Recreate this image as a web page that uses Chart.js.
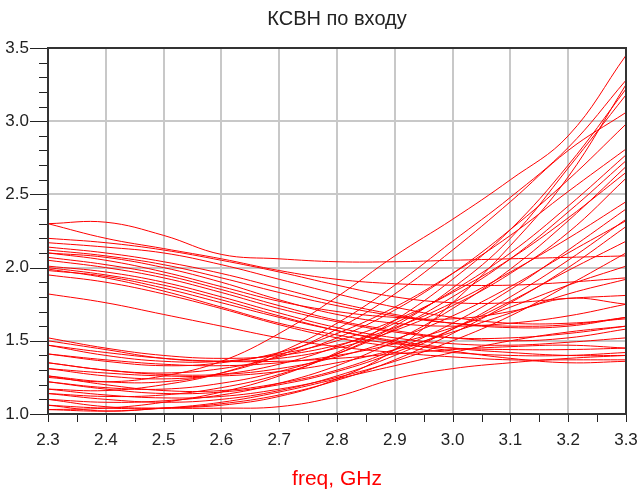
<!DOCTYPE html>
<html>
<head>
<meta charset="utf-8">
<script src="https://cdn.jsdelivr.net/npm/chart.js@4"></script>
<style>
  body { margin: 0; background: #fff; }
  #wrap { width: 638px; height: 494px; }
</style>
</head>
<body>
<div id="wrap"><canvas id="vswr"></canvas></div>
<script>
const freqs = [2.3, 2.4, 2.5, 2.6, 2.7, 2.8, 2.9, 3.0, 3.1, 3.2, 3.3]
const xTicks = [2.3, 2.4, 2.5, 2.6, 2.7, 2.8, 2.9, 3.0, 3.1, 3.2, 3.3]
const yTicks = [1.0, 1.5, 2.0, 2.5, 3.0, 3.5]

// curves that start high and fall
const fallA1 = [2.30, 2.31, 2.22, 2.09, 2.06, 2.04, 2.04, 2.05, 2.06, 2.07, 2.08]
const fallA2 = [2.30, 2.20, 2.13, 2.06, 1.98, 1.92, 1.89, 1.88, 1.88, 1.90, 1.93]
const fallA3 = [2.20, 2.17, 2.12, 2.05, 1.97, 1.88, 1.80, 1.76, 1.76, 1.79, 1.81]
const fallA4 = [2.17, 2.14, 2.10, 2.02, 1.92, 1.82, 1.73, 1.66, 1.62, 1.62, 1.65]
const fallA5 = [2.14, 2.10, 2.04, 1.96, 1.86, 1.76, 1.68, 1.62, 1.59, 1.60, 1.66]
const fallA6 = [2.10, 2.07, 2.00, 1.90, 1.78, 1.68, 1.62, 1.60, 1.62, 1.67, 1.75]
const fallA7 = [2.07, 2.02, 1.95, 1.85, 1.74, 1.64, 1.57, 1.52, 1.50, 1.52, 1.58]
const fallA8 = [2.01, 1.97, 1.90, 1.80, 1.69, 1.59, 1.52, 1.48, 1.47, 1.49, 1.52]
const fallA9 = [1.98, 1.94, 1.86, 1.76, 1.66, 1.57, 1.50, 1.45, 1.42, 1.40, 1.40]
const fallA10 = [1.95, 1.90, 1.82, 1.72, 1.61, 1.52, 1.46, 1.42, 1.40, 1.40, 1.42]
const fallA11 = [1.82, 1.76, 1.68, 1.60, 1.52, 1.46, 1.42, 1.39, 1.37, 1.37, 1.37]
const fallA12 = [2.12, 2.08, 2.02, 1.93, 1.83, 1.74, 1.67, 1.62, 1.60, 1.61, 1.66]
const fallA13 = [2.05, 2.00, 1.93, 1.83, 1.72, 1.63, 1.56, 1.52, 1.52, 1.55, 1.60]
const fallA14 = [2.00, 1.95, 1.88, 1.78, 1.67, 1.57, 1.49, 1.43, 1.38, 1.35, 1.36]
const fallA15 = [2.10, 2.05, 1.97, 1.87, 1.77, 1.70, 1.66, 1.65, 1.70, 1.79, 1.75]
const fallA16 = [1.99, 1.93, 1.84, 1.73, 1.62, 1.54, 1.48, 1.45, 1.44, 1.44, 1.45]

// curves that start low and rise
const riseB1 = [1.25, 1.22, 1.26, 1.36, 1.55, 1.80, 2.08, 2.33, 2.60, 2.90, 3.45]
const riseB2 = [1.17, 1.16, 1.20, 1.28, 1.42, 1.62, 1.88, 2.18, 2.48, 2.82, 3.28]
const riseB3 = [1.26, 1.22, 1.22, 1.28, 1.40, 1.58, 1.82, 2.12, 2.45, 2.80, 3.06]
const riseB4 = [1.06, 1.02, 1.04, 1.06, 1.12, 1.24, 1.44, 1.76, 2.15, 2.62, 3.25]
const riseB5 = [1.03, 1.04, 1.08, 1.15, 1.26, 1.42, 1.64, 1.92, 2.26, 2.70, 3.22]
const riseB6 = [1.14, 1.12, 1.13, 1.18, 1.27, 1.41, 1.60, 1.86, 2.20, 2.68, 3.18]
const riseB7 = [1.35, 1.30, 1.28, 1.31, 1.39, 1.52, 1.71, 1.96, 2.26, 2.60, 2.98]
const riseB8 = [1.41, 1.36, 1.33, 1.35, 1.42, 1.55, 1.73, 1.96, 2.22, 2.52, 2.81]
const riseB9 = [1.31, 1.26, 1.24, 1.27, 1.34, 1.46, 1.62, 1.84, 2.10, 2.42, 2.77]
const riseB10 = [1.22, 1.18, 1.17, 1.21, 1.29, 1.41, 1.58, 1.80, 2.06, 2.38, 2.73]
const riseB11 = [1.10, 1.08, 1.09, 1.13, 1.21, 1.33, 1.50, 1.72, 1.99, 2.32, 2.69]
const riseB12 = [1.47, 1.40, 1.36, 1.36, 1.41, 1.50, 1.64, 1.83, 2.06, 2.34, 2.65]
const riseB13 = [1.50, 1.44, 1.38, 1.36, 1.38, 1.45, 1.57, 1.74, 1.96, 2.24, 2.61]
const riseB14 = [1.52, 1.45, 1.40, 1.38, 1.40, 1.47, 1.59, 1.76, 1.97, 2.20, 2.45]
const riseB15 = [1.26, 1.20, 1.16, 1.16, 1.21, 1.30, 1.44, 1.62, 1.85, 2.12, 2.40]
const riseB16 = [1.14, 1.10, 1.08, 1.10, 1.16, 1.26, 1.40, 1.58, 1.80, 2.05, 2.33]
const riseB17 = [1.06, 1.04, 1.04, 1.07, 1.13, 1.23, 1.37, 1.55, 1.76, 2.00, 2.28]
const riseB18 = [1.35, 1.30, 1.27, 1.27, 1.31, 1.39, 1.51, 1.67, 1.87, 2.10, 2.32]
const riseB19 = [1.22, 1.17, 1.14, 1.15, 1.20, 1.29, 1.42, 1.58, 1.77, 1.98, 2.18]
const riseB20 = [1.17, 1.13, 1.11, 1.12, 1.17, 1.25, 1.36, 1.50, 1.67, 1.88, 2.10]
const riseB21 = [1.41, 1.37, 1.34, 1.33, 1.35, 1.40, 1.48, 1.59, 1.73, 1.88, 2.01]
const riseB22 = [1.31, 1.28, 1.26, 1.26, 1.29, 1.35, 1.44, 1.56, 1.69, 1.82, 1.92]
const riseB23 = [1.03, 1.02, 1.04, 1.08, 1.15, 1.24, 1.33, 1.42, 1.50, 1.56, 1.60]
const riseB24 = [1.10, 1.05, 1.04, 1.04, 1.05, 1.12, 1.24, 1.31, 1.35, 1.38, 1.40]
const riseB25 = [1.47, 1.42, 1.38, 1.36, 1.36, 1.38, 1.41, 1.44, 1.46, 1.47, 1.45]

const curves = [
    fallA1, fallA2, fallA3, fallA4, fallA5, fallA6, fallA7, fallA8,
    fallA9, fallA10, fallA11, fallA12, fallA13, fallA14, fallA15, fallA16,
    riseB1, riseB2, riseB3, riseB4, riseB5, riseB6, riseB7, riseB8, riseB9,
    riseB10, riseB11, riseB12, riseB13, riseB14, riseB15, riseB16, riseB17,
    riseB18, riseB19, riseB20, riseB21, riseB22, riseB23, riseB24, riseB25
]

// box, tick marks (majors longer on y), like the original plot frame
const frame = {
    id: 'frame',
    afterDraw(chart) {
        const { ctx, chartArea: a, scales: { x, y } } = chart
        ctx.save()
        ctx.strokeStyle = '#222'
        ctx.lineWidth = 1
        ctx.beginPath()
        for (let v = 10; v <= 35; v++) {
            const py = Math.round(y.getPixelForValue(v / 10)) + 0.5
            const len = v % 5 === 0 ? 18 : 9
            ctx.moveTo(a.left - len, py)
            ctx.lineTo(a.left, py)
        }
        for (let v = 46; v <= 66; v++) {
            const px = Math.round(x.getPixelForValue(v / 20)) + 0.5
            ctx.moveTo(px, a.bottom)
            ctx.lineTo(px, a.bottom + 8)
        }
        ctx.stroke()
        ctx.lineWidth = 2
        ctx.strokeStyle = '#333'
        ctx.strokeRect(a.left, a.top, a.right - a.left, a.bottom - a.top)
        ctx.restore()
    }
}

const ctx = document.getElementById('vswr')
const chart = new Chart(ctx, {
    type: 'line',
    data: {
        datasets: curves.map((c, i) => ({
            label: 'S' + (i + 1),
            data: freqs.map((f, k) => ({ x: f, y: c[k] })),
            borderColor: 'rgb(255, 0, 0)',
            borderWidth: 1,
            pointRadius: 0,
            tension: 0.4,
            fill: false
        }))
    },
    options: {
        responsive: true,
        maintainAspectRatio: false,
        animation: false,
        layout: { padding: { left: 0, right: 12, top: 0, bottom: 0 } },
        plugins: {
            legend: { display: false },
            tooltip: { enabled: false },
            title: {
                display: true,
                fullSize: false,
                text: 'КСВН по входу',
                color: '#222',
                font: { family: 'Liberation Sans, Arial', size: 20, weight: 'normal' },
                padding: { top: 7, bottom: 17 }
            }
        },
        scales: {
            x: {
                type: 'linear',
                min: 2.3,
                max: 3.3,
                afterBuildTicks: s => { s.ticks = xTicks.map(v => ({ value: v })) },
                afterFit: s => { s.height = 80; s.paddingLeft = 0; s.paddingRight = 0 },
                ticks: {
                    color: '#222',
                    padding: 16,
                    maxRotation: 0,
                    font: { family: 'Liberation Sans, Arial', size: 17 },
                    callback: v => Number(v).toFixed(1)
                },
                grid: { color: '#c8c8c8', lineWidth: 2, drawTicks: false },
                border: { display: false },
                title: {
                    display: true,
                    text: 'freq, GHz',
                    color: 'rgb(255, 0, 0)',
                    font: { family: 'Liberation Sans, Arial', size: 21 },
                    padding: { top: 0, bottom: 2 }
                }
            },
            y: {
                min: 1.0,
                max: 3.5,
                afterBuildTicks: s => { s.ticks = yTicks.map(v => ({ value: v })) },
                afterFit: s => { s.width = 48; s.paddingTop = 0; s.paddingBottom = 0 },
                ticks: {
                    color: '#222',
                    padding: 19,
                    font: { family: 'Liberation Sans, Arial', size: 17 },
                    callback: v => Number(v).toFixed(1)
                },
                grid: { color: '#c8c8c8', lineWidth: 2, drawTicks: false },
                border: { display: false }
            }
        }
    },
    plugins: [frame]
})
</script>
</body>
</html>
